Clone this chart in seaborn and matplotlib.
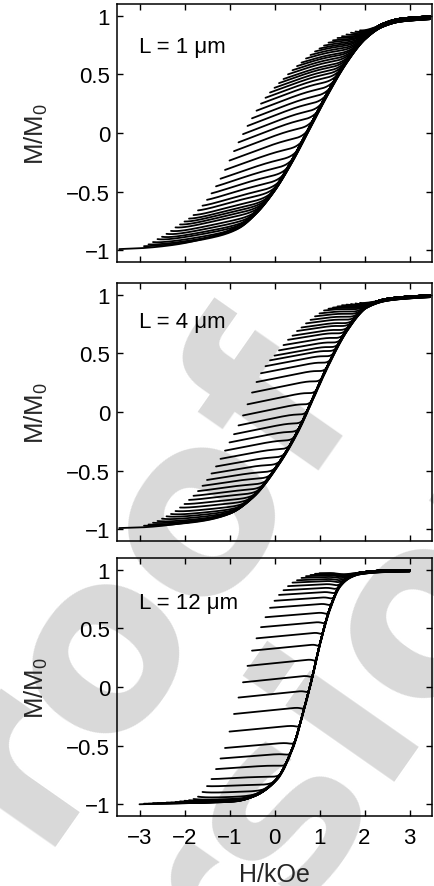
import numpy as np
import pandas as pd
import matplotlib
matplotlib.use("Agg")
import matplotlib.pyplot as plt
import seaborn as sns

# ---------------------------------------------------------------------------
# Data: first-order reversal curves for three wire lengths
# ---------------------------------------------------------------------------
panel_labels = ["L = 1 \u03bcm", "L = 4 \u03bcm", "L = 12 \u03bcm"]

# reversal fields (kOe)
h_rev_long = [-2.9, -2.8, -2.7, -2.6, -2.5, -2.4, -2.3, -2.2, -2.1, -2.0,
              -1.9, -1.8, -1.7, -1.6, -1.5, -1.4, -1.3, -1.2, -1.1, -1.0,
              -0.9, -0.8, -0.7, -0.6, -0.5, -0.4, -0.3, -0.2, -0.1, 0.0,
              0.1, 0.2, 0.3, 0.4, 0.5, 0.6, 0.7, 0.8, 0.9, 1.0,
              1.1, 1.2, 1.3, 1.4, 1.5, 1.6, 1.7, 1.8, 1.9]
h_rev_short = [-2.9, -2.8, -2.7, -2.6, -2.5, -2.4, -2.3, -2.2, -2.1, -2.0,
               -1.9, -1.8, -1.7, -1.6, -1.5, -1.4, -1.3, -1.2, -1.1, -1.0,
               -0.9, -0.8, -0.7, -0.6, -0.5, -0.4, -0.3, -0.2, -0.1, 0.0,
               0.1, 0.2, 0.3, 0.4, 0.5, 0.6, 0.7, 0.8, 0.9, 1.0]

# magnetisation at each reversal field (descending branch)
m_rev_1um = [-0.965, -0.95, -0.93, -0.905, -0.885, -0.86, -0.835, -0.805, -0.78, -0.755,
             -0.73, -0.70, -0.66, -0.62, -0.57, -0.515, -0.455, -0.39, -0.315, -0.235,
             -0.155, -0.08, -0.01, 0.06, 0.125, 0.19, 0.25, 0.30, 0.345, 0.385,
             0.425, 0.46, 0.50, 0.535, 0.57, 0.60, 0.635, 0.665, 0.695, 0.72,
             0.745, 0.77, 0.79, 0.81, 0.825, 0.84, 0.855, 0.865, 0.875]
m_rev_4um = [-0.97, -0.96, -0.945, -0.93, -0.91, -0.89, -0.87, -0.845, -0.815, -0.785,
             -0.75, -0.715, -0.675, -0.63, -0.58, -0.525, -0.465, -0.40, -0.33, -0.26,
             -0.19, -0.115, -0.03, 0.065, 0.165, 0.255, 0.33, 0.39, 0.44, 0.48,
             0.525, 0.57, 0.615, 0.65, 0.69, 0.72, 0.755, 0.785, 0.815, 0.84,
             0.865, 0.88, 0.89, 0.90, 0.91, 0.915, 0.92, 0.925, 0.93]
m_rev_12um = [-0.995, -0.995, -0.99, -0.99, -0.99, -0.985, -0.985, -0.98, -0.975, -0.97,
              -0.965, -0.955, -0.935, -0.895, -0.845, -0.785, -0.70, -0.61, -0.52, -0.38,
              -0.23, -0.09, 0.04, 0.18, 0.31, 0.415, 0.51, 0.595, 0.675, 0.735,
              0.785, 0.825, 0.86, 0.89, 0.91, 0.93, 0.945, 0.955, 0.965, 0.97]

# ascending major branch (H in kOe, M/M0)
asc_h_1um = [-3.45, -3.0, -2.26, -1.29, -0.8, -0.4, 0.0, 0.4, 0.8, 1.2, 1.6, 2.0, 2.4, 2.8, 3.45]
asc_m_1um = [-0.99, -0.983, -0.955, -0.87, -0.79, -0.66, -0.47, -0.22, 0.07, 0.36, 0.62, 0.82, 0.93, 0.975, 0.995]
asc_h_4um = [-3.45, -3.0, -1.89, -0.99, -0.47, 0.12, 0.53, 0.865, 1.2, 1.61, 2.05, 2.5, 3.0, 3.45]
asc_m_4um = [-0.99, -0.985, -0.94, -0.85, -0.71, -0.42, -0.15, 0.13, 0.41, 0.705, 0.905, 0.965, 0.985, 0.995]
asc_h_12um = [-3.0, -2.0, -0.92, -0.47, 0.05, 0.42, 0.64, 0.83, 1.01, 1.24, 1.46, 1.68, 1.9, 2.4, 3.0]
asc_m_12um = [-1.0, -0.99, -0.97, -0.92, -0.78, -0.50, -0.21, 0.07, 0.37, 0.68, 0.87, 0.945, 0.975, 0.993, 0.998]

x_ticks = [-3, -2, -1, 0, 1, 2, 3]
y_ticks = [-1, -0.5, 0, 0.5, 1]
y_tick_labels = ["\u22121", "\u22120.5", "0", "0.5", "1"]
x_tick_labels = ["\u22123", "\u22122", "\u22121", "0", "1", "2", "3"]

panels = [
    dict(h_rev=h_rev_long, m_rev=m_rev_1um, asc_h=asc_h_1um, asc_m=asc_m_1um,
         h_end=3.45, slope=0.15, soft=0.09, text_y=0.69),
    dict(h_rev=h_rev_long, m_rev=m_rev_4um, asc_h=asc_h_4um, asc_m=asc_m_4um,
         h_end=3.45, slope=0.08, soft=0.06, text_y=0.72),
    dict(h_rev=h_rev_short, m_rev=m_rev_12um, asc_h=asc_h_12um, asc_m=asc_m_12um,
         h_end=3.0, slope=0.04, soft=0.05, text_y=0.67),
]


def smooth_branch(xk, yk, x):
    """Monotone cubic (Fritsch-Carlson) curve through the branch samples."""
    xk = np.asarray(xk, float)
    yk = np.asarray(yk, float)
    hk = np.diff(xk)
    dk = np.diff(yk) / hk
    m = np.empty_like(yk)
    m[0], m[-1] = dk[0], dk[-1]
    w1 = 2 * hk[1:] + hk[:-1]
    w2 = hk[1:] + 2 * hk[:-1]
    with np.errstate(divide="ignore", invalid="ignore"):
        inner = (w1 + w2) / (w1 / dk[:-1] + w2 / dk[1:])
    m[1:-1] = np.where(dk[:-1] * dk[1:] > 0, inner, 0.0)
    x = np.asarray(x, float)
    i = np.clip(np.searchsorted(xk, x) - 1, 0, len(hk) - 1)
    t = (x - xk[i]) / hk[i]
    h00 = 2 * t**3 - 3 * t**2 + 1
    h10 = t**3 - 2 * t**2 + t
    h01 = -2 * t**3 + 3 * t**2
    h11 = t**3 - t**2
    return h00 * yk[i] + h10 * hk[i] * m[i] + h01 * yk[i + 1] + h11 * hk[i] * m[i + 1]


def reversal_curve(hr, mr, p, n=300):
    """Curve leaving (hr, mr) with a small slope and merging into the ascending branch."""
    h = np.linspace(hr, p["h_end"], n)
    base = smooth_branch(p["asc_h"], p["asc_m"], h)
    line = mr + p["slope"] * np.sqrt(max(1 - mr**2, 0.0)) * (h - hr)
    w = p["soft"]
    sig = 1.0 / (1.0 + np.exp(-(line - base) / w))
    m = sig * line + (1 - sig) * base
    m += (mr - m[0]) * np.exp(-(h - hr) / 0.2)
    return h, m


frames = []
for k, p in enumerate(panels):
    hb = np.linspace(p["asc_h"][0], p["h_end"], 400)
    frames.append(pd.DataFrame({"panel": k, "curve": -1, "H": hb,
                                "M": smooth_branch(p["asc_h"], p["asc_m"], hb)}))
    for j, (hr, mr) in enumerate(zip(p["h_rev"], p["m_rev"])):
        h, m = reversal_curve(hr, mr, p)
        frames.append(pd.DataFrame({"panel": k, "curve": j, "H": h, "M": m}))
df = pd.concat(frames, ignore_index=True)

# ---------------------------------------------------------------------------
# Figure
# ---------------------------------------------------------------------------
sns.set_theme(style="ticks")
plt.rcParams["font.family"] = ["Liberation Sans", "DejaVu Sans"]
plt.rcParams["mathtext.default"] = "regular"

fig = plt.figure(figsize=(4.34, 8.87), dpi=100)
fig.patch.set_facecolor("white")

# light grey watermark behind the panels
wm = dict(color="#d9d9d9", fontsize=175, fontweight="bold", rotation=55,
          rotation_mode="anchor", ha="left", va="baseline", zorder=-5,
          family="DejaVu Sans")
fig.text(-0.154, -0.1165, "Proof", **wm)
fig.text(0.103, -0.4388, "version", **wm)

left, width, height = 0.2696, 0.7258, 0.2909
bottoms = [0.7035, 0.3890, 0.0789]

for k, p in enumerate(panels):
    ax = fig.add_axes([left, bottoms[k], width, height])
    ax.set_facecolor("none")
    sns.lineplot(data=df[df["panel"] == k], x="H", y="M", units="curve",
                 estimator=None, sort=False, color="black", linewidth=1.3,
                 ax=ax, legend=False)
    ax.set_xlim(-3.5, 3.5)
    ax.set_ylim(-1.1, 1.1)
    ax.set_xticks(x_ticks)
    ax.set_yticks(y_ticks)
    ax.set_yticklabels(y_tick_labels)
    if k == 2:
        ax.set_xticklabels(x_tick_labels)
        ax.set_xlabel("H/kOe", fontsize=18, labelpad=10)
    else:
        ax.set_xticklabels([])
        ax.set_xlabel("")
    ax.set_ylabel("M/M$_0$", fontsize=18.5, labelpad=12)
    ax.tick_params(direction="in", top=True, right=True, length=4.5, width=1.0,
                   labelsize=16, color="black", labelcolor="black")
    ax.tick_params(axis="x", pad=8)
    ax.tick_params(axis="y", pad=5)
    for sp in ax.spines.values():
        sp.set_visible(True)
        sp.set_linewidth(1.1)
        sp.set_color("black")
    ax.text(-3.02, p["text_y"], panel_labels[k], fontsize=16, va="baseline",
            ha="left", color="black")

fig.savefig("out.png", dpi=100, facecolor="white")
